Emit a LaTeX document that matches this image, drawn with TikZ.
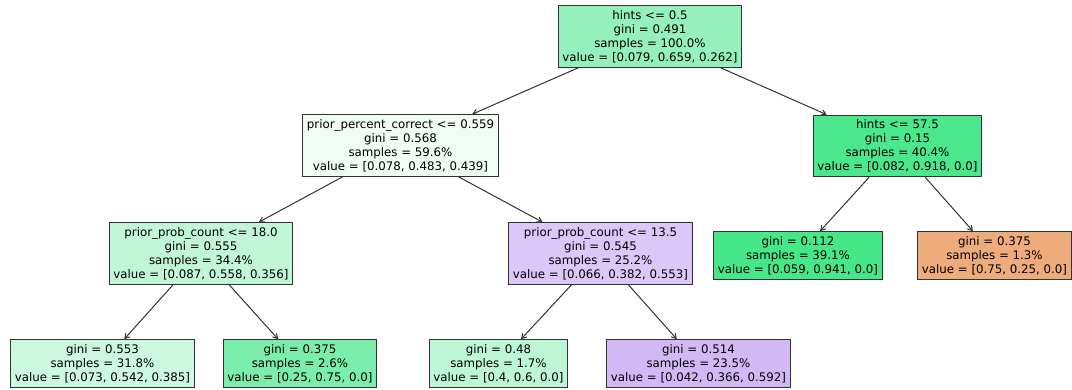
\documentclass[tikz,border=0pt]{standalone}
\usepackage{fontspec}
\setmainfont{DejaVu Sans}
\usetikzlibrary{arrows.meta}
\definecolor{cRoot}{HTML}{95F1BB}
\definecolor{cPpc}{HTML}{F0FDF5}
\definecolor{cHsf}{HTML}{4BE78C}
\definecolor{cPeh}{HTML}{C1F7D7}
\definecolor{cPth}{HTML}{DCC8F8}
\definecolor{cLa}{HTML}{46E789}
\definecolor{cLb}{HTML}{EEAB7B}
\definecolor{cLc}{HTML}{CCF8DF}
\definecolor{cLd}{HTML}{7BEEAB}
\definecolor{cLe}{HTML}{BDF6D5}
\definecolor{cLf}{HTML}{D2B9F6}
\definecolor{edgegray}{HTML}{333333}
\tikzset{
  treenode/.style={draw=edgegray, line width=1pt, align=center, inner xsep=4pt, inner ysep=4.6pt,
    font=\fontsize{11.8}{14}\selectfont},
  treeedge/.style={draw=edgegray, line width=1pt, -{Straight Barb[length=4.5pt,width=5.5pt]}}
}
\begin{document}
\begin{tikzpicture}[x=1pt,y=-1pt]
\useasboundingbox[fill=white] (0,0) rectangle (1072,390);
\node[treenode, fill=cRoot] (root) at (650,36.5) {hints <= 0.5\\gini = 0.491\\samples = 100.0\%\\value = [0.079, 0.659, 0.262]};
\node[treenode, fill=cPpc] (ppc) at (400.5,145.5) {prior\_percent\_correct <= 0.559\\gini = 0.568\\samples = 59.6\%\\value = [0.078, 0.483, 0.439]};
\node[treenode, fill=cHsf] (hsf) at (897.5,146) {hints <= 57.5\\gini = 0.15\\samples = 40.4\%\\value = [0.082, 0.918, 0.0]};
\node[treenode, fill=cPeh] (peh) at (201,253.5) {prior\_prob\_count <= 18.0\\gini = 0.555\\samples = 34.4\%\\value = [0.087, 0.558, 0.356]};
\node[treenode, fill=cPth] (pth) at (600.5,253.5) {prior\_prob\_count <= 13.5\\gini = 0.545\\samples = 25.2\%\\value = [0.066, 0.382, 0.553]};
\node[treenode, fill=cLa] (la) at (798,255.5) {gini = 0.112\\samples = 39.1\%\\value = [0.059, 0.941, 0.0]};
\node[treenode, fill=cLb] (lb) at (994.5,255.5) {gini = 0.375\\samples = 1.3\%\\value = [0.75, 0.25, 0.0]};
\node[treenode, fill=cLc] (lc) at (102.5,363.5) {gini = 0.553\\samples = 31.8\%\\value = [0.073, 0.542, 0.385]};
\node[treenode, fill=cLd] (ld) at (300,363.5) {gini = 0.375\\samples = 2.6\%\\value = [0.25, 0.75, 0.0]};
\node[treenode, fill=cLe] (le) at (498.5,363.5) {gini = 0.48\\samples = 1.7\%\\value = [0.4, 0.6, 0.0]};
\node[treenode, fill=cLf] (lf) at (698.5,363.5) {gini = 0.514\\samples = 23.5\%\\value = [0.042, 0.366, 0.592]};
\draw[treeedge] (root) -- (ppc);
\draw[treeedge] (root) -- (hsf);
\draw[treeedge] (ppc) -- (peh);
\draw[treeedge] (ppc) -- (pth);
\draw[treeedge] (hsf) -- (la);
\draw[treeedge] (hsf) -- (lb);
\draw[treeedge] (peh) -- (lc);
\draw[treeedge] (peh) -- (ld);
\draw[treeedge] (pth) -- (le);
\draw[treeedge] (pth) -- (lf);
\end{tikzpicture}
\end{document}
